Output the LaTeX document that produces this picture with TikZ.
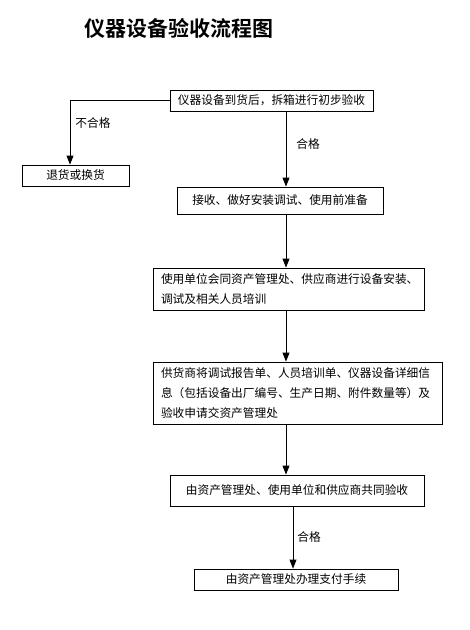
\documentclass[tikz,border=0pt]{standalone}
\usepackage{fontspec}
\setmainfont{Noto Sans CJK SC}[BoldFont={Noto Sans CJK SC Bold}]
\usetikzlibrary{arrows.meta}

\begin{document}
\begin{tikzpicture}[x=1pt,y=-1pt,
  box/.style={draw,line width=0.9pt,inner sep=0pt,font=\fontsize{11.7}{20}\selectfont},
  flow/.style={draw,line width=0.9pt,-{Triangle[length=9pt,width=7pt]}},
  lbl/.style={font=\fontsize{11.7}{14}\selectfont}]
  \useasboundingbox (0,0) rectangle (470,630);

  % Title
  \node[font=\fontsize{21}{24}\selectfont\bfseries] (title) at (179,28) {仪器设备验收流程图};

  % The steps, top to bottom
  \node[box,minimum width=203pt,minimum height=21pt] (arrive) at (271.5,100.5) {仪器设备到货后，拆箱进行初步验收};
  \node[box,minimum width=107pt,minimum height=21pt] (reject) at (75.5,175.5) {退货或换货};
  \node[box,minimum width=206pt,minimum height=27pt] (receive) at (280,200.5) {接收、做好安装调试、使用前准备};
  \node[box,minimum width=271pt,minimum height=42pt,text width=255pt,align=left] (install) at (288.5,289)
    {使用单位会同资产管理处、供应商进行设备安装、\\调试及相关人员培训};
  \node[box,minimum width=289pt,minimum height=62pt,text width=273pt,align=left] (report) at (297.5,393)
    {供货商将调试报告单、人员培训单、仪器设备详细信\\息（包括设备出厂编号、生产日期、附件数量等）及\\验收申请交资产管理处};
  \node[box,minimum width=254pt,minimum height=31pt] (check) at (297,490.5) {由资产管理处、使用单位和供应商共同验收};
  \node[box,minimum width=204pt,minimum height=21pt] (pay) at (296,579.5) {由资产管理处办理支付手续};

  % Connectors
  \coordinate (spine) at (286,0);
  \coordinate (spine2) at (293,0);
  \coordinate (rejturn) at (70,100.5);
  \draw[flow] (arrive.west) -- (rejturn) -- (rejturn |- reject.north);
  \draw[flow] (arrive.south -| spine) -- (receive.north -| spine);
  \draw[flow] (receive.south -| spine) -- (install.north -| spine);
  \draw[flow] (install.south -| spine) -- (report.north -| spine);
  \draw[flow] (report.south -| spine) -- (check.north -| spine);
  \draw[flow] (check.south -| spine2) -- (pay.north -| spine2);

  % Labels on the connectors
  \node[lbl] (failtxt) at (93,123) {不合格};
  \node[lbl] (passtxt) at (308,144) {合格};
  \node[lbl] (passtxt2) at (309,537) {合格};
\end{tikzpicture}
\end{document}
